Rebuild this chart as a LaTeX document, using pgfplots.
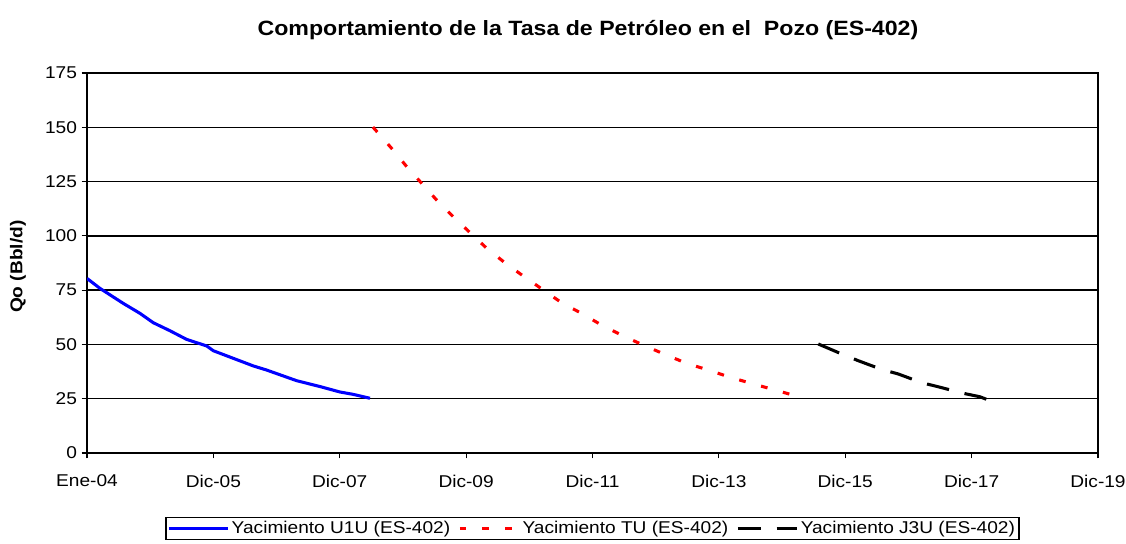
\documentclass[border=0pt]{standalone}
\usepackage{fontspec}
\setmainfont[FakeStretch=1.12]{Liberation Sans}
\usepackage{pgfplots}
\pgfplotsset{compat=1.18}
\begin{document}
\begin{tikzpicture}
\path[use as bounding box] (0,0) rectangle (844.5pt,407.25pt);
\begin{axis}[
  at={(65.25pt,67.5pt)}, anchor=south west,
  scale only axis, width=758.25pt, height=285pt,
  xmin=0, xmax=16, ymin=0, ymax=175,
  xtick={0,2,4,6,8,10,12,14,16},
  xticklabels={Ene-04,Dic-05,Dic-07,Dic-09,Dic-11,Dic-13,Dic-15,Dic-17,Dic-19},
  ytick={0,25,50,75,100,125,150,175},
  ymajorgrids, major grid style={black, line width=1pt},
  axis line style={black, line width=1.1pt},
  tick style={black, line width=0.8pt},
  tick align=outside, major tick length=4pt,
  xtick pos=bottom, ytick pos=left,
  /pgf/number format/assume math mode=true,
  tick label style={font=\fontsize{12.8pt}{14pt}\selectfont},
  xticklabel style={yshift=-9pt},
  title={Comportamiento de la Tasa de Petróleo en el\ \ Pozo (ES-402)},
  title style={font=\fontsize{15.5pt}{17pt}\selectfont\bfseries, at={(axis description cs:0.4955,1)}, anchor=center, yshift=26.5pt},
  ylabel={Qo (Bbl/d)},
  ylabel style={font=\fontsize{12.8pt}{14pt}\selectfont\bfseries, at={(axis description cs:-0.0682,0.49)}, anchor=center, rotate=0},
  legend columns=3,
  legend style={at={(axis description cs:0.5,-0.199)}, anchor=center, draw=black, line width=0.8pt,
    font=\fontsize{12.8pt}{14pt}\selectfont, inner sep=1pt, row sep=0pt,
    /tikz/every even column/.append style={column sep=4pt}},
  legend image code/.code={\draw[#1] (0pt,0pt) -- (44pt,0pt);},
]
\addplot[blue, line width=2.3pt, line join=round] coordinates {
(0,80.4) (0.206,75.8) (0.574,68.9) (0.839,64.3) (1.049,60.0) (1.313,56.3) (1.578,52.3)
(1.894,49.3) (1.999,47.1) (2.315,43.6) (2.632,40.1) (2.843,38.2) (3.318,33.3)
(3.687,30.6) (4.003,28.1) (4.214,27.0) (4.478,25.2)};
\addlegendentry{Yacimiento U1U (ES-402)}
\addplot[red, line width=2.3pt, dash pattern=on 5pt off 12pt] coordinates {
(4.525,150.1) (4.821,140.3) (5.059,131.9) (5.296,124.2) (5.533,116.5) (5.797,108.8)
(6.061,101.5) (6.325,94.3) (6.614,87.6) (6.904,81.5) (7.220,75.1) (7.511,69.2)
(7.827,64.3) (8.144,58.9) (8.487,53.9) (8.803,49.7) (9.146,45.4) (9.489,41.3)
(9.832,38.2) (10.175,34.9) (10.52,32.0) (10.89,29.0) (11.28,25.8)};
\addlegendentry{Yacimiento TU (ES-402)}
\addplot[black, line width=2.3pt, dash pattern=on 17pt off 12pt] coordinates {
(11.573,50.2) (11.943,45.6) (12.206,42.5) (12.575,38.5) (12.838,36.4) (13.208,32.4)
(13.471,30.5) (13.867,27.5) (14.131,25.9) (14.29,24.1)};
\addlegendentry{Yacimiento J3U (ES-402)}
\end{axis}
\end{tikzpicture}
\end{document}
